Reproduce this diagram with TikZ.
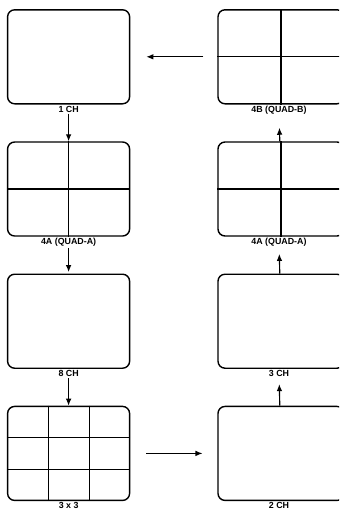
\documentclass[tikz,border=0pt]{standalone}
\usepackage{fontspec}
\setmainfont{Liberation Sans}
\usetikzlibrary{positioning, arrows.meta, calc}

\tikzset{
  screen/.style={draw, rounded corners=5pt, line width=1pt, minimum width=3.05cm, minimum height=2.35cm},
  wide/.style={minimum width=3.15cm},
  chlabel/.style={font=\fontsize{6.3}{7}\selectfont\bfseries, inner sep=0.5pt},
  split/.style={line width=0.75pt}
}

\begin{document}
\begin{tikzpicture}[->,>={Latex[length=5pt,width=4pt]},thick,node distance=0.92cm]
  \useasboundingbox (0,0) rectangle (8.475,-12.875);
  \clip (0,0) rectangle (8.475,-12.875);

  % left column
  \node[screen] (s1ch) at (1.715,-1.42) {};
  \node[chlabel, below=0.3pt of s1ch] (l1ch) {1 CH};
  \node[screen, below=of s1ch] (s4a) {};
  \node[chlabel, below=0.3pt of s4a] (l4a) {4A (QUAD-A)};
  \node[screen, below=of s4a] (s8ch) {};
  \node[chlabel, below=0.3pt of s8ch] (l8ch) {8 CH};
  \node[screen, below=of s8ch] (s3x3) {};
  \node[chlabel, below=0.3pt of s3x3] (l3x3) {3 x 3};

  % right column
  \node[screen, wide] (s4b) at (7.025,-1.42) {};
  \node[chlabel, below=0.3pt of s4b, xshift=-0.05cm] (l4b) {4B (QUAD-B)};
  \node[screen, wide, below=of s4b] (s4ar) {};
  \node[chlabel, below=0.3pt of s4ar, xshift=-0.05cm] (l4ar) {4A (QUAD-A)};
  \node[screen, wide, below=of s4ar] (s3ch) {};
  \node[chlabel, below=0.3pt of s3ch, xshift=-0.05cm] (l3ch) {3 CH};
  \node[screen, wide, below=of s3ch] (s2ch) {};
  \node[chlabel, below=0.3pt of s2ch, xshift=-0.05cm] (l2ch) {2 CH};

  % split screens
  \foreach \s in {s4a,s4b,s4ar}
    \draw[-,split] (\s.north) -- (\s.south) (\s.west) -- (\s.east);
  \foreach \f in {1/3,2/3} {
    \draw[-,split] ($(s3x3.north west)!\f!(s3x3.north east)$) -- ($(s3x3.south west)!\f!(s3x3.south east)$);
    \draw[-,split] ($(s3x3.north west)!\f!(s3x3.south west)$) -- ($(s3x3.north east)!\f!(s3x3.south east)$);
  }

  % sequence
  \draw (l1ch) -- (s4a);
  \draw[shorten >=1pt] (l4a) -- (s8ch);
  \draw (l8ch) -- (s3x3);
  \draw[shorten <=0.4cm, shorten >=0.37cm] (s3x3) -- (s2ch);
  \draw[shorten >=0.15cm] (s2ch) -- (l3ch);
  \draw[shorten >=0.15cm] (s3ch) -- (l4ar);
  \draw[shorten >=0.3cm] (s4ar) -- (l4b);
  \draw[shorten <=0.35cm, shorten >=0.4cm] (s4b) -- (s1ch);
\end{tikzpicture}
\end{document}
